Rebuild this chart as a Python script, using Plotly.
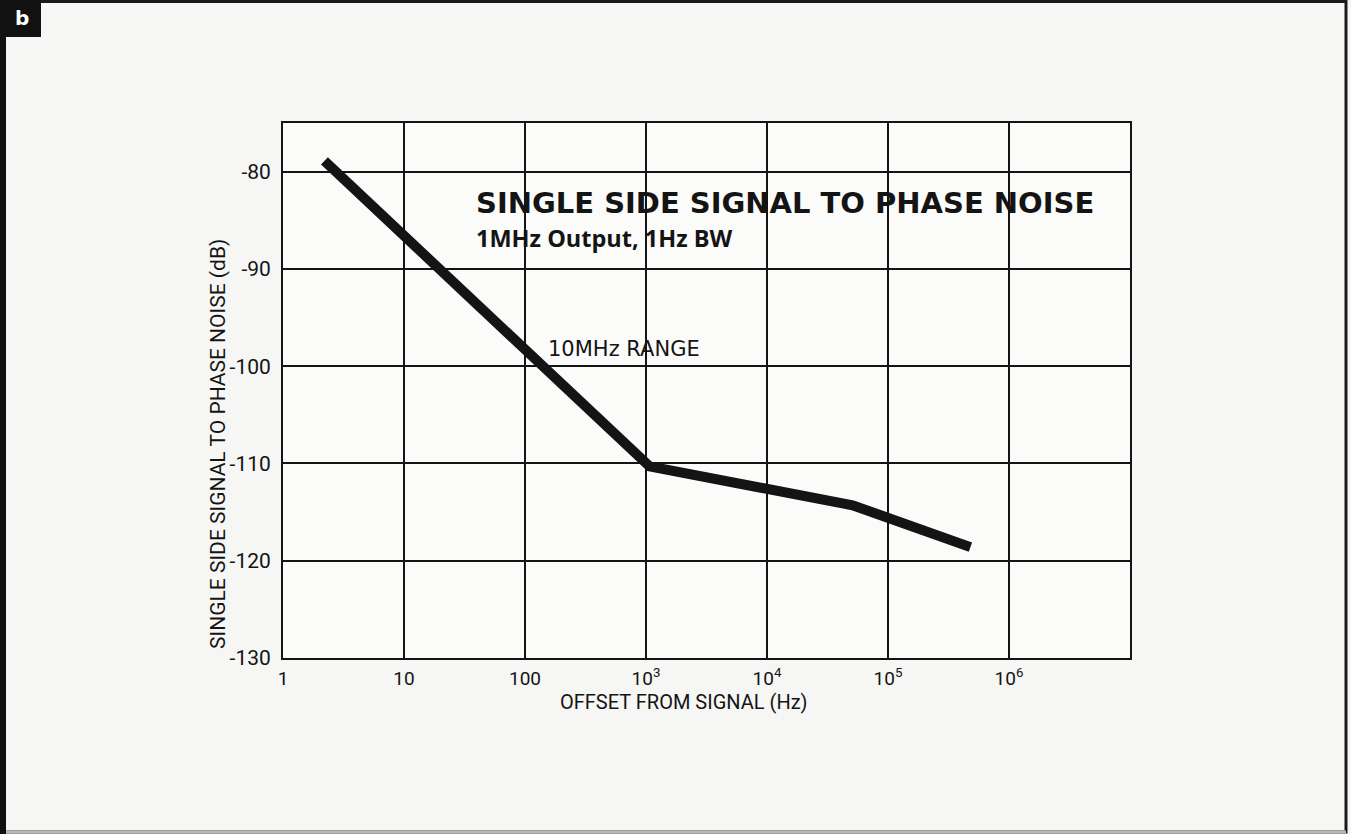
import plotly.graph_objects as go

# ---- data ----
offset_hz = [2.2, 1070, 51000, 480000]
noise_db = [-78.9, -110.3, -114.3, -118.6]

x_tick_vals = [1, 10, 100, 1000, 10000, 100000, 1000000, 10000000]
x_tick_text = ["1", "10", "100", "10<sup>3</sup>", "10<sup>4</sup>", "10<sup>5</sup>", "10<sup>6</sup>", ""]
y_tick_vals = [-130, -120, -110, -100, -90, -80]
y_tick_text = ["-130", "-120", "-110", "-100", "-90", "-80"]

title_text = "SINGLE SIDE SIGNAL TO PHASE NOISE"
subtitle_text = "1MHz Output, 1Hz BW"
curve_label = "10MHz RANGE"
x_title = "OFFSET FROM SIGNAL (Hz)"
y_title = "SINGLE SIDE SIGNAL TO PHASE NOISE (dB)"
panel_letter = "b"

# ---- layout geometry (pixels) ----
W, H = 1351, 834
ML, MR, MT, MB = 283, 221, 123, 176
PW, PH = W - ML - MR, H - MT - MB

def px(xp):
    return (xp - ML) / PW

def py(yp):
    return (H - MB - yp) / PH

COND = "Roboto, Liberation Sans, sans-serif"
INK = "#141414"

fig = go.Figure()
fig.add_trace(go.Scatter(
    x=offset_hz, y=noise_db, mode="lines",
    line=dict(color=INK, width=10),
    hoverinfo="skip", showlegend=False,
))

shapes = [
    # white box behind the title (covers grid lines)
    dict(type="rect", xref="paper", yref="paper", layer="between",
         x0=px(446), x1=px(1128), y0=py(254), y1=py(173),
         fillcolor="#fbfbfa", line=dict(width=0)),
    # outer frame
    dict(type="rect", xref="paper", yref="paper", layer="above",
         x0=px(1.5), x1=px(1346), y0=py(832), y1=py(1.5),
         fillcolor="rgba(0,0,0,0)", line=dict(color="#1a1a1a", width=3)),
    # thick left edge of the frame
    dict(type="rect", xref="paper", yref="paper", layer="above",
         x0=px(0), x1=px(6), y0=py(834), y1=py(0),
         fillcolor="#111111", line=dict(width=0)),
    # light bottom edge
    dict(type="line", xref="paper", yref="paper", layer="above",
         x0=px(6), x1=px(1346), y0=py(832), y1=py(832),
         line=dict(color="#b8b8b8", width=3)),
    # panel letter box
    dict(type="rect", xref="paper", yref="paper", layer="above",
         x0=px(4), x1=px(41), y0=py(37), y1=py(0),
         fillcolor="#111111", line=dict(width=0)),
]

annotations = [
    dict(text=f"<b>{title_text}</b>", xref="paper", yref="paper",
         x=px(474), y=py(203), xanchor="left", yanchor="middle", showarrow=False,
         font=dict(family="DejaVu Sans, sans-serif", size=29, color=INK)),
    dict(text=f"<b>{subtitle_text}</b>", xref="paper", yref="paper",
         x=px(474), y=py(238), xanchor="left", yanchor="middle", showarrow=False,
         font=dict(family="Open Sans, sans-serif", size=23.5, color=INK)),
    dict(text=curve_label, xref="paper", yref="paper",
         x=px(624), y=py(349), xanchor="center", yanchor="middle", showarrow=False,
         font=dict(family="DejaVu Sans, sans-serif", size=21, color=INK)),
    dict(text=x_title, xref="paper", yref="paper",
         x=px(684), y=py(702), xanchor="center", yanchor="middle", showarrow=False,
         font=dict(family=COND, size=20, color=INK)),
    dict(text=y_title, xref="paper", yref="paper", textangle=-90,
         x=px(218), y=py(444), xanchor="center", yanchor="middle", showarrow=False,
         font=dict(family=COND, size=21, color=INK)),
    dict(text=f"<b>{panel_letter}</b>", xref="paper", yref="paper",
         x=px(22), y=py(18), xanchor="center", yanchor="middle", showarrow=False,
         font=dict(family="DejaVu Sans, sans-serif", size=20, color="#ffffff")),
]

fig.update_layout(
    width=W, height=H,
    margin=dict(l=ML, r=MR, t=MT, b=MB, pad=0),
    paper_bgcolor="#f6f6f4", plot_bgcolor="#fbfbfa",
    shapes=shapes, annotations=annotations,
    showlegend=False,
)
fig.update_xaxes(
    type="log", range=[0, 7],
    tickmode="array", tickvals=x_tick_vals, ticktext=x_tick_text,
    showgrid=True, gridcolor=INK, gridwidth=2,
    showline=True, linecolor=INK, linewidth=2, mirror=True,
    ticks="", ticklabelstandoff=2,
    tickfont=dict(family=COND, size=19, color=INK),
    zeroline=False,
)
fig.update_yaxes(
    range=[-130, -75],
    tickmode="array", tickvals=y_tick_vals, ticktext=y_tick_text,
    showgrid=True, gridcolor=INK, gridwidth=2,
    showline=True, linecolor=INK, linewidth=2, mirror=True,
    ticks="", ticklabelstandoff=6,
    tickfont=dict(family=COND, size=21, color=INK),
    zeroline=False,
)

fig.write_html("out.html", config={"displayModeBar": False},
               post_script="document.body.style.margin='0px';")
